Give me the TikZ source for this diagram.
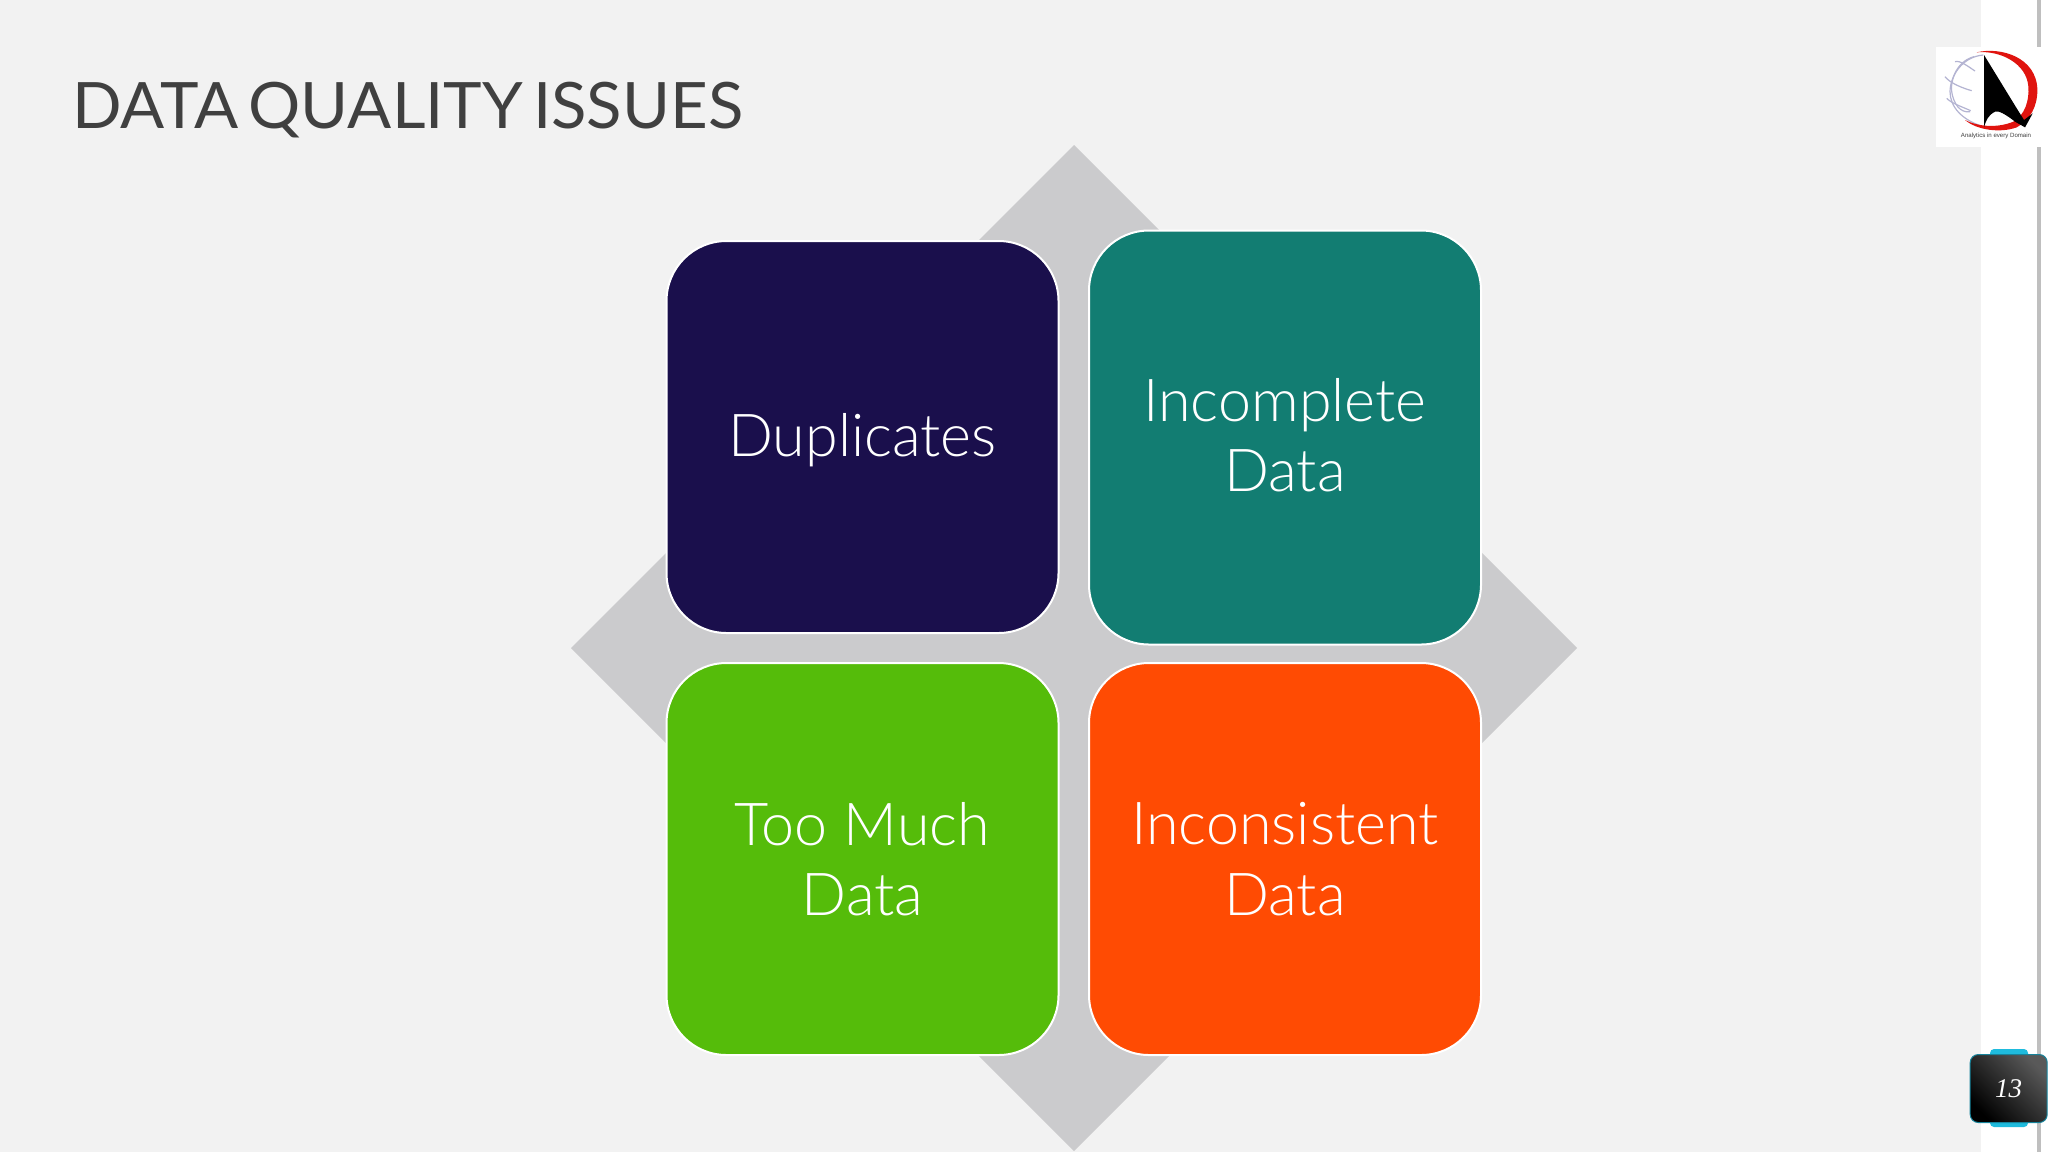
\documentclass[tikz,border=0pt]{standalone}
\usepackage{fontspec}
\setmainfont{Lato Light}
\newfontfamily\titlefont[FakeStretch=1.02,WordSpace=0.6]{Lato}
\definecolor{bgc}{HTML}{F2F2F2}
\definecolor{navyc}{HTML}{1A0F4C}
\definecolor{tealc}{HTML}{127D72}
\definecolor{greenc}{HTML}{55BC0A}
\definecolor{orangec}{HTML}{FF4B03}
\definecolor{diamc}{HTML}{CBCBCD}
\definecolor{titlec}{HTML}{404040}
\definecolor{cyanc}{HTML}{1FBBDD}
\definecolor{redc}{HTML}{E0140F}
\definecolor{globec}{HTML}{B4B4D2}
\tikzset{
  tile/.style={draw=white,line width=1pt,rounded corners=30pt,text=white,align=center,inner sep=0pt,
    font=\fontsize{29.6}{35.3}\selectfont},
}
\begin{document}
\begin{tikzpicture}[x=0.5pt,y=-0.5pt]
\useasboundingbox (0,0) rectangle (2048,1152);
\fill[white] (0,0) rectangle (2048,1152);
\fill[bgc] (0,0) rectangle (1981,1152);
\fill[black!25] (2037,0) rectangle (2041,1152);
% title
\node[anchor=west,text=titlec,inner sep=0pt,font=\titlefont\fontsize{32}{40}\selectfont] (title) at (72,110) {DATA QUALITY ISSUES};
% diamond
\fill[diamc] (1074,145) -- (1577,648) -- (1074,1151) -- (571,648) -- cycle;
% tiles
\node[tile,fill=navyc,minimum width=196pt,minimum height=196pt] (dup) at (862.5,437) {\rule{0pt}{24.5pt}Duplicates};
\node[tile,fill=tealc,minimum width=196pt,minimum height=207pt] (inc) at (1285,437.5) {Incomplete\\Data\rule[-2.5pt]{0pt}{0pt}};
\node[tile,fill=greenc,minimum width=196pt,minimum height=196pt] (much) at (862.5,859) {Too Much\\Data};
\node[tile,fill=orangec,minimum width=196pt,minimum height=196pt] (cons) at (1285,859) {Inconsistent\\Data};
% logo
\fill[white] (1936,47) rectangle (2048,147);
\begin{scope}[shift={(1900,20)},x=0.1667pt,y=-0.1667pt]
  \draw[globec,line width=0.6pt] (250,105) .. controls (185,110) and (150,170) .. (150,215) .. controls (150,260) and (185,300) .. (250,320);
  \draw[globec,line width=0.6pt] (222,110) .. controls (165,125) and (150,190) .. (155,215) .. controls (160,250) and (180,280) .. (210,275);
  \draw[globec,line width=0.6pt] (165,125) .. controls (180,120) and (205,140) .. (225,153);
  \draw[globec,line width=0.6pt] (135,170) .. controls (150,190) and (190,205) .. (215,212);
  \draw[globec,line width=0.6pt] (140,235) .. controls (155,250) and (185,260) .. (212,272);
  \fill[redc] (230,97) .. controls (300,80) and (410,110) .. (412,210) .. controls (412,260) and (390,300) .. (350,322)
     .. controls (300,340) and (230,330) .. (195,300) .. controls (235,320) and (290,325) .. (340,305)
     .. controls (375,285) and (388,240) .. (385,200) .. controls (380,130) and (300,90) .. (230,97) -- cycle;
  \fill[black] (252,105) -- (350,265) -- (372,300) -- (398,280) -- (375,322) -- (345,305)
     .. controls (320,285) and (295,270) .. (285,275) .. controls (265,285) and (258,300) .. (252,322) -- cycle;
  \node[text=black!75,inner sep=0pt,font=\fontsize{3.05}{3.5}\selectfont\fontspec{Liberation Sans}] (tag) at (288,348) {Analytics in every Domain};
\end{scope}
% page number
\fill[cyanc,rounded corners=2pt] (1990,1049) rectangle (2028,1127);
\node[draw=cyanc!70!black,line width=0.5pt,rounded corners=4pt,minimum width=38.5pt,minimum height=34pt,inner sep=0pt,
  left color=black!65,right color=black,shading angle=-45,
  text=white,font=\fontsize{13.5}{16}\selectfont] (page) at (2008.7,1088.5) {\fontspec{Liberation Serif}\itshape 13};
\end{tikzpicture}
\end{document}
